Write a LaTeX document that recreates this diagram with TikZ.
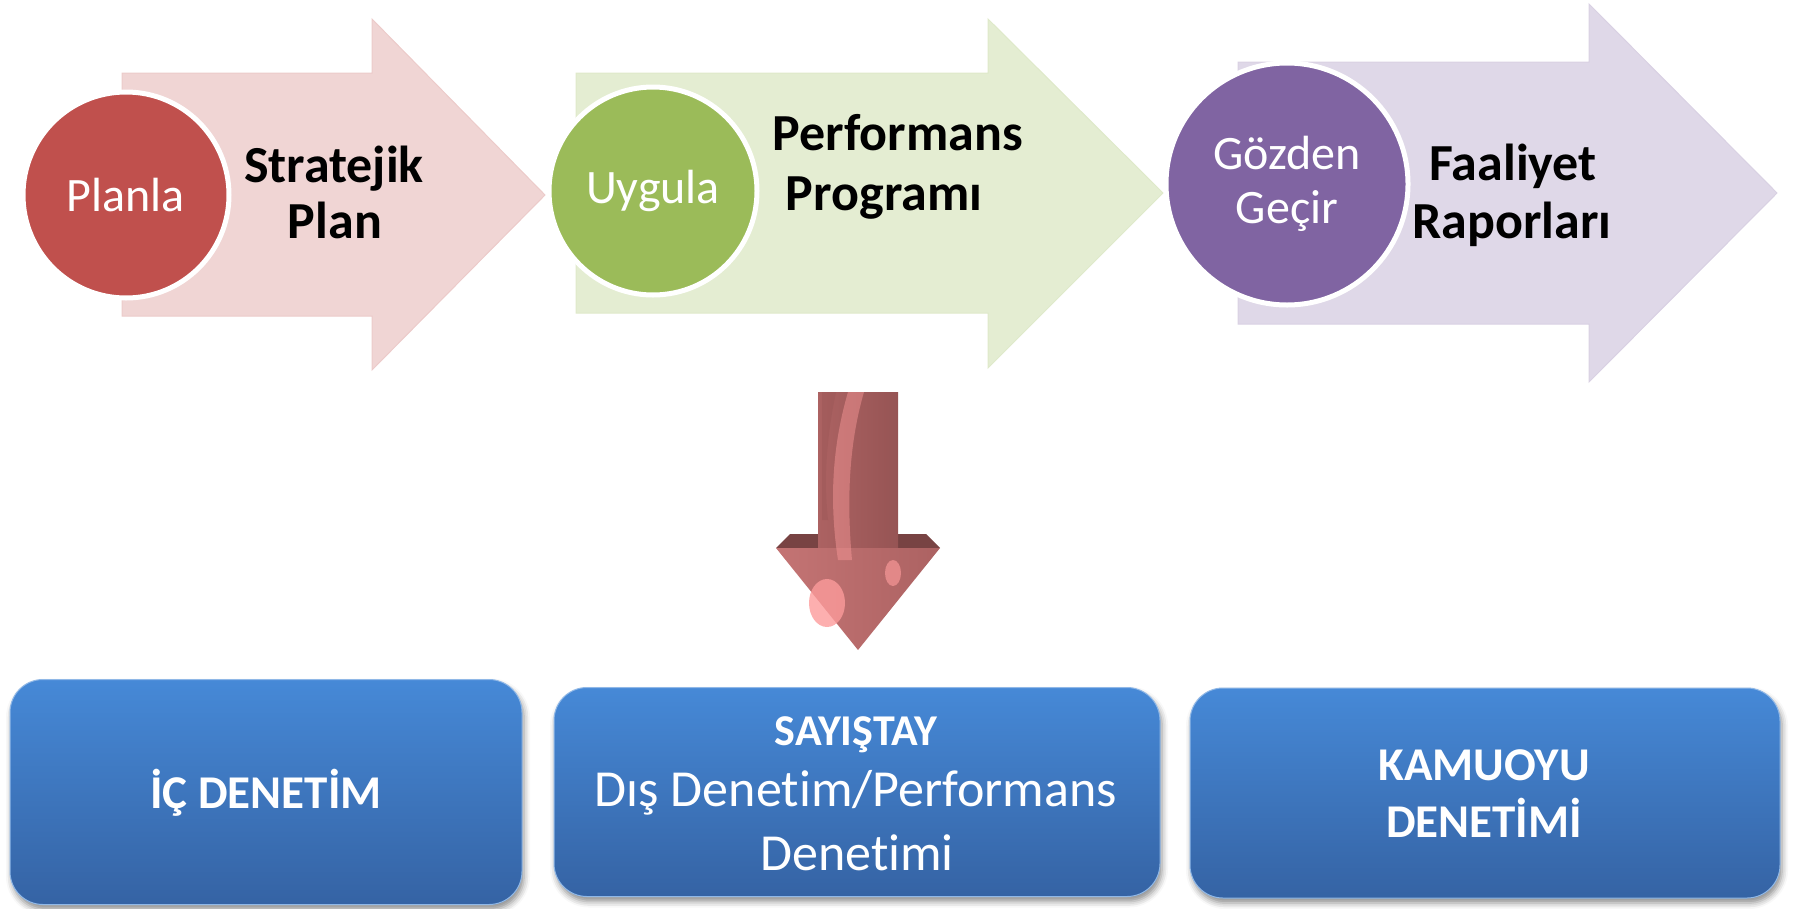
\documentclass[tikz,border=0pt]{standalone}
\usepackage{fontspec}
\setmainfont{Carlito}[Ligatures={NoCommon}]
\usetikzlibrary{shadows.blur}
\definecolor{planred}{HTML}{C0504D}
\definecolor{dogreen}{HTML}{9BBB59}
\definecolor{revpurple}{HTML}{8064A2}
\definecolor{boxtop}{HTML}{4689D7}
\definecolor{boxbot}{HTML}{3563A4}
\definecolor{dropdark}{RGB}{150,84,84}
\definecolor{dropmid}{RGB}{196,116,116}
\definecolor{dropleft}{RGB}{172,98,98}
\definecolor{droplight}{RGB}{252,155,155}
\tikzset{
  flowarrow/.style={line width=1pt, line join=miter},
  stepcircle/.style={circle, draw=white, line width=5pt, inner sep=0pt,
    minimum size=#1, text=white, align=center,
    font=\fontsize{48}{54}\selectfont},
  steplabel/.style={anchor=base, inner sep=0pt,
    font=\fontsize{52}{57}\selectfont\bfseries},
  auditbox/.style={rounded corners=33pt, top color=boxtop, bottom color=boxbot,
    draw=boxtop!60!white, line width=1pt, inner sep=0pt,
    blur shadow={shadow xshift=2pt, shadow yshift=-5pt,
      shadow blur radius=6pt, shadow opacity=45}},
  boxline/.style={anchor=base, inner sep=0pt, text=white},
}
\begin{document}
\begin{tikzpicture}[x=1pt, y=-1pt]
\useasboundingbox (0,0) rectangle (1793,908);

% process arrows
\filldraw[flowarrow, fill=planred!24, draw=planred!30]
  (122,73) -- (372,73) -- (372,19) -- (545,195) -- (372,370) -- (372,316) -- (122,316) -- cycle;
\filldraw[flowarrow, fill=dogreen!27, draw=dogreen!32]
  (576,73) -- (988,73) -- (988,19) -- (1163,193) -- (988,368) -- (988,313) -- (576,313) -- cycle;
\filldraw[flowarrow, fill=revpurple!25, draw=revpurple!30]
  (1238,62) -- (1589,62) -- (1589,4) -- (1777,193) -- (1589,382) -- (1589,324) -- (1238,324) -- cycle;

% step circles
\node[stepcircle=206pt, fill=planred] (planla) at (126,195) {Planla};
\node[stepcircle=208pt, fill=dogreen] (uygula) at (653,191) {Uygula};
\node[stepcircle=242pt, fill=revpurple] (gozden) at (1287,184) {Gözden\\Geçir};

% step outputs
\node[steplabel] (sp1) at (334,182) {Stratejik};
\node[steplabel] (sp2) at (335,238) {Plan};
\node[steplabel] (pp1) at (898,150) {Performans};
\node[steplabel] (pp2) at (884,210) {Programı};
\node[steplabel] (fr1) at (1513,180) {Faaliyet};
\node[steplabel] (fr2) at (1512,238) {Raporları};

% downward arrow
\fill[dropdark!80!black] (790,534) -- (926,534) -- (940,548) -- (776,548) -- cycle;
\shade[left color=dropleft, middle color=dropmid, right color=dropdark]
  (818,392) rectangle (898,548);
\shade[left color=dropmid, middle color=dropmid!95!white, right color=dropleft]
  (776,548) -- (940,548) -- (858,650) -- cycle;
\fill[droplight, opacity=0.45]
  (848,392) .. controls (834,440) and (828,495) .. (838,560)
  -- (852,560) .. controls (846,495) and (850,440) .. (864,392) -- cycle;
\fill[dropdark, opacity=0.35] (822,392) -- (836,392) .. controls (826,440) and (824,480) .. (828,520) -- (822,520) -- cycle;
\fill[droplight, opacity=0.8] (827,603) ellipse [x radius=18pt, y radius=24pt];
\fill[droplight, opacity=0.65] (893,573) ellipse [x radius=8pt, y radius=13pt];

% audit boxes
\node[auditbox, minimum width=512pt, minimum height=225pt] (ic) at (266,792) {};
\node[auditbox, minimum width=606pt, minimum height=209pt] (sayistay) at (857,792) {};
\node[auditbox, minimum width=590pt, minimum height=210pt] (kamu) at (1485,793) {};

\node[boxline, font=\fontsize{47}{54}\selectfont\bfseries] (ict) at (266,808) {İÇ DENETİM};
\node[boxline, font=\fontsize{44}{50}\selectfont\bfseries] (say1) at (856,745) {SAYIŞTAY};
\node[boxline, font=\fontsize{52}{60}\selectfont] (say2) at (856,806) {Dış Denetim/Performans};
\node[boxline, font=\fontsize{52}{60}\selectfont] (say3) at (857,870) {Denetimi};
\node[boxline, font=\fontsize{47}{54}\selectfont\bfseries] (kam1) at (1484,780) {KAMUOYU};
\node[boxline, font=\fontsize{47}{54}\selectfont\bfseries] (kam2) at (1484,837) {DENETİMİ};
\end{tikzpicture}
\end{document}
